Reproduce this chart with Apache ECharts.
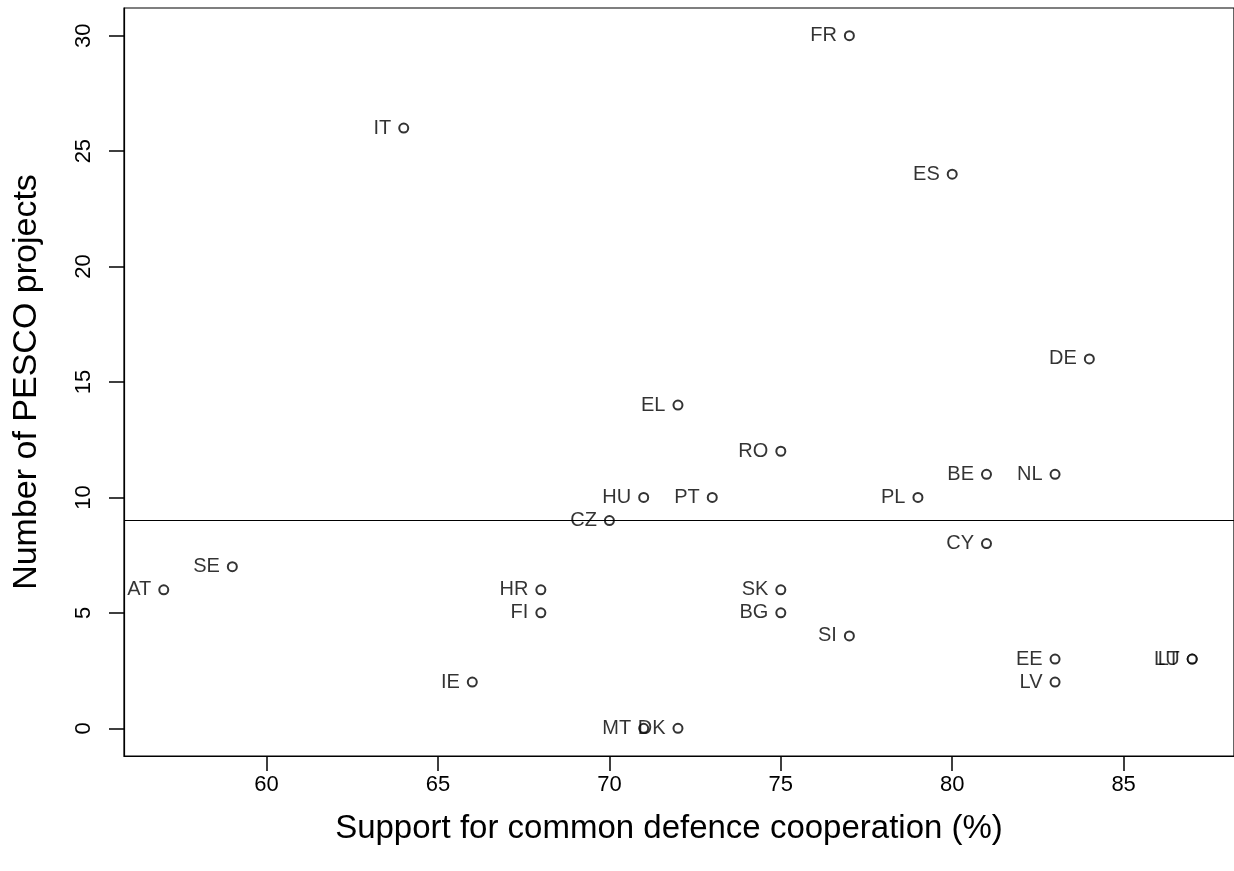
<!DOCTYPE html>
<html><head><meta charset="utf-8">
<script src="https://cdn.jsdelivr.net/npm/echarts@6/dist/echarts.min.js"></script>
<style>html,body{margin:0;padding:0;background:#fff}#c{width:1234px;height:871px}</style>
</head><body><div id="c"></div>
<script>
const countries = ["FR","IT","ES","DE","EL","RO","BE","NL","HU","PT","PL","CZ","CY","SE","AT","HR","SK","FI","BG","SI","EE","LU","LT","IE","LV","MT","DK"];
const support =   [77,64,80,84,72,75,81,83,71,73,79,70,81,59,57,68,75,68,75,77,83,87,87,66,83,71,72];
const projects =  [30,26,24,16,14,12,11,11,10,10,10,9,8,7,6,6,6,5,5,4,3,3,3,2,2,0,0];
const xTicks = [60,65,70,75,80,85];
const yTicks = [0,5,10,15,20,25,30];
const meanLine = 9;
const xTitle = "Support for common defence cooperation (%)";
const yTitle = "Number of PESCO projects";

const font = "'Liberation Sans', Arial, Helvetica, sans-serif";
const chart = echarts.init(document.getElementById('c'), null, {renderer:'canvas'});
const data = countries.map((c,i)=>({value:[support[i],projects[i]], name:c}));
chart.setOption({
  animation:false,
  backgroundColor:'#fff',
  grid:{left:124, top:8, width:1114, height:748, show:true, borderColor:'#000', borderWidth:1.2, backgroundColor:'transparent'},
  xAxis:[{type:'value', min:55.84, max:88.22, position:'bottom',
    axisLine:{show:true, onZero:false, lineStyle:{color:'#000', width:1.2}},
    axisTick:{show:false},
    axisLabel:{customValues:xTicks, color:'#000', fontSize:22, fontFamily:font, margin:18},
    splitLine:{show:false},
    name:xTitle, nameLocation:'middle', nameGap:56,
    nameTextStyle:{fontSize:33, color:'#000', fontFamily:font, padding:[0,20,0,0]}
  },{type:'value', min:55.84, max:88.22, position:'bottom', offset:15,
    axisLine:{show:false, onZero:false},
    axisTick:{show:true, inside:true, length:15, lineStyle:{color:'#000', width:1.5}, customValues:xTicks},
    axisLabel:{show:false},
    splitLine:{show:false}
  }],
  yAxis:{type:'value', min:-1.2, max:31.2, position:'left',
    axisLine:{show:true, onZero:false, lineStyle:{color:'#000', width:1.2}},
    axisTick:{show:true, inside:false, length:15, lineStyle:{color:'#000', width:1.5}, customValues:yTicks},
    axisLabel:{customValues:yTicks, color:'#000', fontSize:22, fontFamily:font, rotate:90, margin:29},
    splitLine:{show:false},
    name:yTitle, nameLocation:'middle', nameGap:80,
    nameTextStyle:{fontSize:34, color:'#000', fontFamily:font}
  },
  series:[{
    type:'scatter', data:data, xAxisIndex:0,
    symbol:'emptyCircle', symbolSize:9,
    itemStyle:{color:'#000', borderColor:'#000', borderWidth:1},
    label:{show:true, position:'left', distance:7, formatter:p=>p.name, color:'#000', fontSize:20, fontFamily:font},
    labelLayout:{hideOverlap:false},
    markLine:{silent:true, symbol:'none', label:{show:false},
      lineStyle:{color:'#000', type:'solid', width:1.2},
      data:[{yAxis:meanLine}]}
  }]
});
</script></body></html>
